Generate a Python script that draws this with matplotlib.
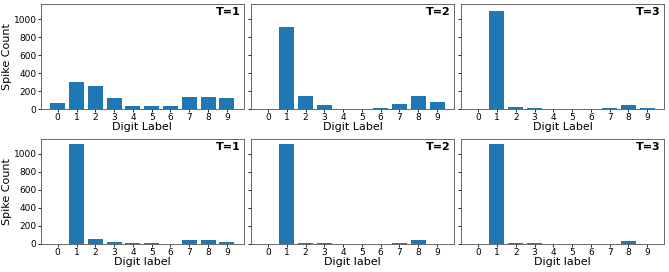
import matplotlib
matplotlib.use("Agg")
import matplotlib.pyplot as plt
import numpy as np

digits = [0, 1, 2, 3, 4, 5, 6, 7, 8, 9]
titles = ["T=1", "T=2", "T=3"]

top_t1 = [63, 303, 252, 119, 30, 30, 35, 135, 133, 120]
top_t2 = [0, 908, 144, 41, 2, 0, 8, 55, 144, 74]
top_t3 = [0, 1092, 26, 11, 0, 2, 0, 11, 41, 8]

bot_t1 = [0, 1110, 59, 26, 12, 8, 5, 40, 40, 26]
bot_t2 = [0, 1108, 10, 12, 0, 0, 0, 8, 44, 2]
bot_t3 = [0, 1108, 10, 12, 0, 2, 0, 5, 33, 4]

rows = [[top_t1, top_t2, top_t3], [bot_t1, bot_t2, bot_t3]]
xlabels = ["Digit Label", "Digit label"]

fig, axes = plt.subplots(2, 3, figsize=(6.69, 2.72), dpi=100, sharey=True)
fig.subplots_adjust(left=0.0613, right=0.9925, top=0.985, bottom=0.103,
                    wspace=0.038, hspace=0.286)

for r in range(2):
    for c in range(3):
        ax = axes[r, c]
        ax.bar(digits, rows[r][c], width=0.8, color="#1f77b4")
        ax.set_xticks(digits)
        ax.set_xticklabels([str(d) for d in digits])
        ax.tick_params(labelsize=6.5, length=2, width=0.6, pad=1.2)
        ax.set_xlabel(xlabels[r], fontsize=8, labelpad=0)
        ax.text(0.985, 0.975, titles[c], transform=ax.transAxes, ha="right",
                va="top", fontsize=8, fontweight="bold")
        for s in ax.spines.values():
            s.set_linewidth(0.7)
            s.set_color("#666666")
        if c == 0:
            ax.set_ylabel("Spike Count", fontsize=8, labelpad=1)
        else:
            ax.tick_params(labelleft=False)

axes[0, 0].set_yticks([0, 200, 400, 600, 800, 1000])
axes[0, 0].set_ylim(0, 1166)

fig.savefig("out.png", dpi=100)
